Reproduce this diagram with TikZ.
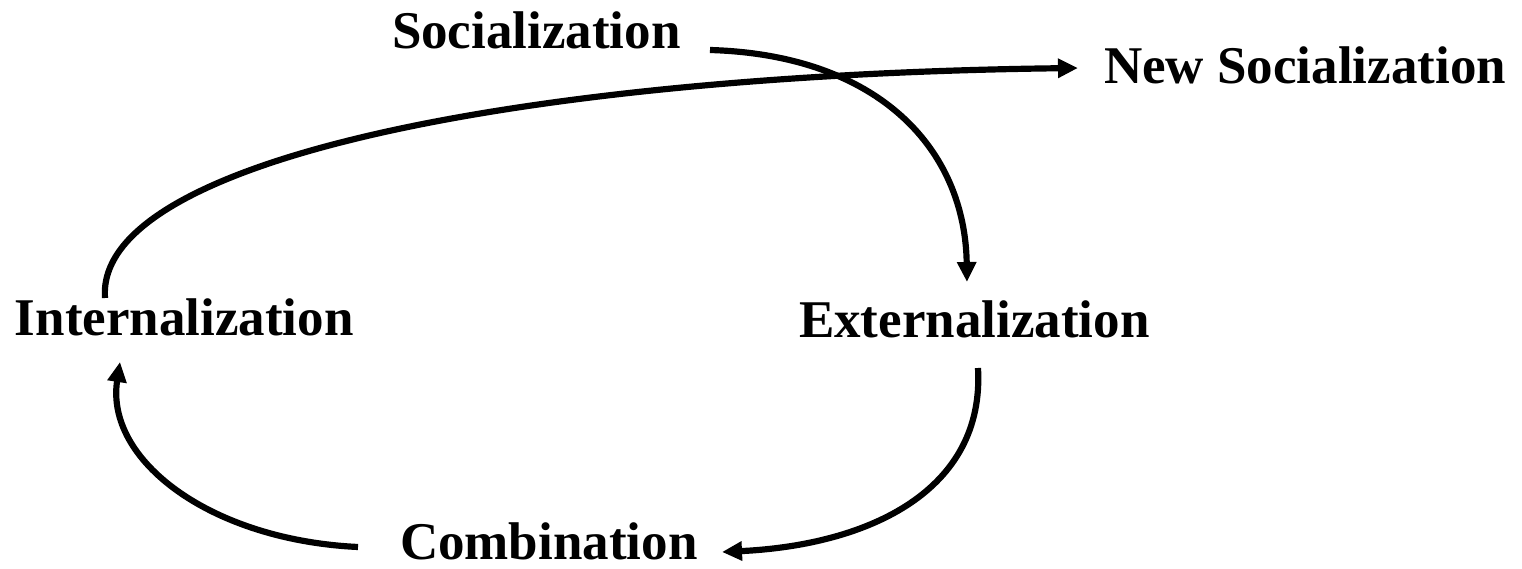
\documentclass[tikz,border=0pt]{standalone}
\usepackage{fontspec}
\setmainfont{Liberation Serif}
\usetikzlibrary{arrows.meta}
\begin{document}
\begin{tikzpicture}[x=0.025cm,y=-0.025cm,
  mode/.style={anchor=base west,inner sep=0pt,outer sep=0pt,
    font=\fontsize{37.7}{40}\selectfont\bfseries},
  flow/.style={line width=4.4pt,-{Triangle[length=0.5cm,width=0.46cm]}}]
  \useasboundingbox (0,0) rectangle (1522,569);
  % the four modes of knowledge conversion
  \node[mode] (soc)  at (392,49)  {Socialization};
  \node[mode] (nsoc) at (1104,84) {New Socialization};
  \node[mode] (int)  at (15,336)  {Internalization};
  \node[mode] (ext)  at (799,338) {Externalization};
  \node[mode] (com)  at (400,560) {Combination};
  % connector end points
  \coordinate (a1) at (710,50);   \coordinate (a2) at (967,282);
  \coordinate (b1) at (978,368);  \coordinate (b2) at (722,552);
  \coordinate (c1) at (358,547);  \coordinate (c2) at (120,362);
  \coordinate (d1) at (105,298);  \coordinate (d2) at (1078,68);
  % the spiral
  \draw[flow] (a1) .. controls (880,55) and (965,150) .. (a2);
  \draw[flow] (b1) .. controls (985,490) and (870,545) .. (b2);
  \draw[flow] (c1) .. controls (210,540) and (105,460) .. (c2);
  \draw[flow] (d1) .. controls (95,160) and (520,75) .. (d2);
\end{tikzpicture}
\end{document}
